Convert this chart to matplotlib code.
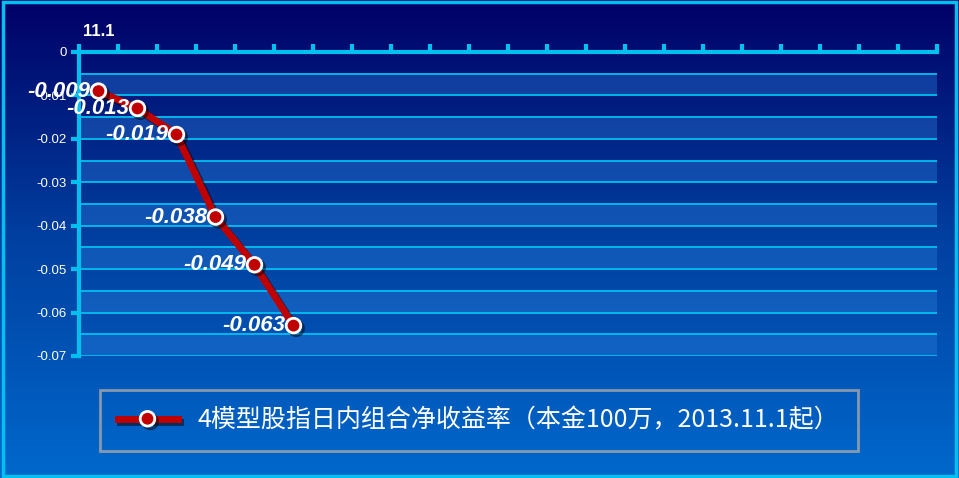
import numpy as np
import matplotlib
matplotlib.use("Agg")
import matplotlib.pyplot as plt
import matplotlib.patches as mpatches
import matplotlib.patheffects as pe
from matplotlib.colors import LinearSegmentedColormap

plt.rcParams['font.family'] = ['Noto Sans CJK SC', 'DejaVu Sans']

# data
dates = ['11.1'] + [''] * 21
returns = [-0.009, -0.013, -0.019, -0.038, -0.049, -0.063]
series_name = '4模型股指日内组合净收益率（本金100万，2013.11.1起）'
y_ticks = [0, -0.01, -0.02, -0.03, -0.04, -0.05, -0.06, -0.07]

CYAN = '#00c0f0'
RED = '#c00000'

fig = plt.figure(figsize=(9.59, 4.78), dpi=100)

# gradient background
bg = fig.add_axes([0, 0, 1, 1], zorder=-10)
grad = np.linspace(0, 1, 256).reshape(-1, 1)
cmap = LinearSegmentedColormap.from_list('bg', ['#000066', '#0040a0', '#0068cc'])
bg.imshow(grad, aspect='auto', cmap=cmap, extent=[0, 1, 0, 1], origin='upper')
bg.axis('off')

ax = fig.add_axes([79 / 959, 1 - 356 / 478, 858 / 959, 304 / 478])
ax.set_facecolor('none')
n = len(dates)
ax.set_xlim(-0.5, n - 0.5)
ax.set_ylim(-0.07, 0)

# alternating bands and grid lines
for k in range(7):
    ax.axhspan(-0.01 * k - 0.005, -0.01 * (k + 1), color='#2a7ad8', alpha=0.4, lw=0, zorder=0)
for yv in np.arange(-0.005, -0.0701, -0.005):
    ax.axhline(yv, color=CYAN, lw=1.3, zorder=1)

x = np.arange(len(returns))
ax.plot(x, returns, color=RED, lw=5, marker='o', markersize=10.5,
        markerfacecolor=RED, markeredgecolor='white', markeredgewidth=2, zorder=5,
        path_effects=[pe.SimpleLineShadow(offset=(2, -2), alpha=0.5), pe.Normal()])

for xi, v in zip(x, returns):
    ax.annotate(f'{v:.3f}', (xi, v), xytext=(-6, 0), textcoords='offset points',
                ha='right', va='center', color='white', fontsize=16,
                fontweight='bold', fontstyle='italic', family=['Liberation Sans'], zorder=6)

# axes styling
for s in ['bottom', 'right']:
    ax.spines[s].set_visible(False)
for s in ['top', 'left']:
    ax.spines[s].set_color(CYAN)
    ax.spines[s].set_linewidth(3)
    ax.spines[s].set_zorder(4)

ax.xaxis.tick_top()
ax.set_xticks(np.arange(-0.5, n, 1))
ax.set_xticklabels([])
ax.set_xticks(np.arange(n), minor=True)
ax.set_xticklabels(dates, minor=True)
ax.tick_params(axis='x', which='major', length=6, width=3, color=CYAN, direction='out')
ax.tick_params(axis='x', which='minor', length=0, pad=9, labelsize=12, labelcolor='white')
for t in ax.xaxis.get_minorticklabels():
    t.set_fontweight('bold')
    t.set_family(['Liberation Sans'])

ax.set_yticks(y_ticks)
ax.set_yticklabels(['0' if v == 0 else f'{v:.2f}' for v in y_ticks])
ax.tick_params(axis='y', length=6, width=3, color=CYAN, direction='out',
               labelsize=9.5, labelcolor='white', pad=3)
for t in ax.get_yticklabels():
    t.set_family(['Liberation Sans'])

leg = fig.legend(handles=ax.lines[-1:], labels=[series_name],
                 loc='lower left', bbox_to_anchor=(100 / 959, 27 / 478, 758 / 959, 60 / 478),
                 mode='expand', fontsize=18, frameon=True, fancybox=False,
                 handlelength=2.4, borderpad=0.7, handletextpad=0.8, borderaxespad=0)
leg.get_frame().set_edgecolor('#a8a8a8')
leg.get_frame().set_linewidth(2)
leg.get_frame().set_facecolor('none')
for t in leg.get_texts():
    t.set_color('white')

# outer frame
fig.patches.append(mpatches.Rectangle((3 / 959, 2 / 478), 953 / 959, 474 / 478,
                                      transform=fig.transFigure, fill=False,
                                      edgecolor=CYAN, lw=2.5))

fig.savefig('out.png', dpi=100)
